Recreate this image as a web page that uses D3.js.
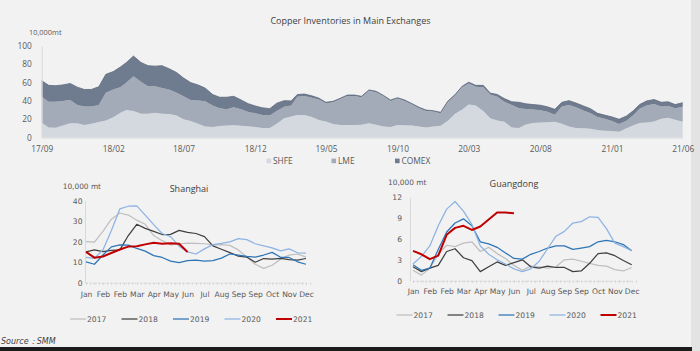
<!DOCTYPE html>
<html>
<head>
<meta charset="utf-8">
<script src="https://cdn.jsdelivr.net/npm/d3@7"></script>
<style>
  body { margin: 0; background: #f2f2f2; }
  svg { display: block; }
</style>
</head>
<body>
<svg id="chart" width="700" height="351"></svg>
<script>
// ---- top chart: stocks read every half month from 17/09 to 21/06 (10,000 mt)
const exchanges = ["SHFE", "LME", "COMEX"];
const shfe = [16.2, 11, 10.7, 13, 15.5, 15.5, 13.7, 15, 17, 18.5,
  22, 27, 30, 29, 26, 26, 27, 26, 25.7, 24,
  20, 18, 15, 12, 11.5, 12.5, 13, 13.5, 12.8, 12.4,
  11.5, 10.5, 10.5, 15, 21, 23, 24.6, 24.6, 22.5, 19,
  17.5, 14.8, 13.7, 13.7, 13.7, 14, 15.5, 14, 12, 11.5,
  13.7, 13.5, 13, 12, 11, 12, 12.8, 18, 26, 30.5,
  36, 35, 29, 21, 18.5, 17.3, 11, 10.5, 14.2, 15.8,
  16.3, 16.8, 17.2, 15, 12, 10.5, 10, 9.5, 8.3, 7.5,
  7, 6.4, 10, 13.5, 15.8, 16.5, 17.5, 20.5, 21.5, 19.5,
  17.3];
const lme = [28.4, 28, 28.3, 27, 25.5, 20, 20.3, 19, 18.5, 30.5,
  30.5, 28, 30, 38, 35, 30, 29, 28, 26.6, 25,
  25, 23, 25.5, 27.5, 23.5, 19.5, 18, 19.5, 18, 15.6,
  14.9, 14, 13.5, 14, 12.7, 12, 20, 20.8, 21, 22.5,
  20, 23.7, 28.3, 31.7, 31.7, 30, 35.5, 35.5, 33, 28.5,
  28.8, 26.5, 23, 20, 18, 16.3, 13.7, 20.5, 20, 24.5,
  23, 20.5, 26, 26, 26, 21.7, 24.5, 21.5, 17, 14.7,
  13.5, 11.4, 7.8, 19, 23.5, 22.5, 19.5, 17, 14.2, 13,
  11, 8.3, 8.4, 11, 15.7, 18.5, 19, 13.3, 12.9, 12.5,
  16.4];
const comex = [17.4, 18, 17.6, 17.5, 18, 19.5, 18.5, 18.5, 20, 20,
  19.5, 22, 22, 22, 21, 22.5, 22, 24.5, 22.7, 22,
  20, 19, 16.9, 14.5, 12, 12, 13, 12, 10.2, 9,
  8.1, 8, 7.5, 8.5, 6.6, 5, 2.4, 2.1, 2, 1.5,
  1, 1, 1, 1, 1, 1, 1, 1, 1, 1,
  1, 1, 1, 1, 1, 1, 1, 1, 1, 1,
  1.5, 1.5, 2, 1.5, 2.5, 3.5, 3.5, 6.5, 5.6, 5.5,
  5.5, 5.3, 5.8, 4.5, 4.8, 4.7, 5, 5, 4, 4,
  4.5, 5.2, 5.1, 5, 4.5, 5, 5, 4.7, 4.6, 4,
  4.3];
const topTicks = ["17/09", "18/02", "18/07", "18/12", "19/05", "19/10", "20/03", "20/08", "21/01", "21/06"];
const topColors = ["#d4d8df", "#a3abb8", "#6f7b8e"];

// ---- bottom charts: weekly stocks, one reading every two weeks (10,000 mt)
const weekLabels = ["Jan", "Feb", "Feb", "Mar", "Apr", "May", "Jun", "Jul", "Aug", "Sep", "Sep", "Oct", "Nov", "Dec"];
const years = ["2017", "2018", "2019", "2020", "2021"];
const yearColors = ["#bfbfbf", "#404040", "#2e75b6", "#8db3e2", "#c00000"];

const sh2017 = [20, 19.8, 25, 31, 34, 33, 30.5, 28.5, 23, 20.5, 18.5, 19, 19.3, 19.2, 19, 18.5, 18.6, 18.2, 16, 12.5, 9, 7, 8.5, 11.5, 13.5, 14, 12.5];
const sh2018 = [15, 16, 15.2, 15.8, 16, 23, 28.5, 26.5, 25, 23.5, 23.6, 25.5, 24.5, 24, 22.5, 18, 16.3, 14.7, 13, 12.5, 10, 11.8, 11.5, 11.9, 11.2, 11, 11.8];
const sh2019 = [10.2, 9, 13.5, 17.5, 18.4, 18.3, 16.7, 15.4, 13.2, 12.3, 10.5, 9.8, 10.8, 11, 10.5, 10.8, 12, 14, 13.5, 12.8, 12.5, 13.5, 14.8, 12.4, 12.3, 10.2, 9];
const sh2020 = [12.4, 11.9, 16, 25.5, 36, 37.3, 37.5, 33, 28.3, 24, 22.5, 17.8, 15, 14, 16.5, 18.6, 19.2, 19.9, 21.5, 21, 19, 18, 17, 15.5, 16.5, 14.6, 14.4];
const sh2021 = [15, 12.2, 12.8, 14.5, 16.2, 17.6, 17.8, 18.7, 19.5, 19, 19.3, 19, 15];

const gd2017 = [1.5, 0.8, 1.8, 3.8, 5.1, 4.9, 5.4, 5.6, 4.2, 4.8, 3.9, 3.2, 2.2, 1.5, 2.1, 2, 1.8, 2, 3, 3.1, 2.8, 2.5, 2.2, 2.1, 1.6, 1.4, 1.9];
const gd2018 = [2, 1.3, 1.8, 2.2, 4.2, 4.6, 3.3, 2.9, 1.3, 2, 2.7, 2.2, 2.6, 3, 2, 1.8, 2.1, 1.9, 1.9, 1.3, 1.4, 2.5, 3.9, 4, 3.6, 2.9, 2.3];
const gd2019 = [2.3, 1.5, 1.8, 4.5, 7, 8.3, 8.9, 7.9, 5.6, 5.3, 4.8, 4, 3.2, 3.1, 3.8, 4.2, 4.7, 5, 5, 4.5, 4.7, 4.9, 5.6, 5.8, 5.6, 5.2, 4.3];
const gd2020 = [2.4, 3.5, 5, 7.9, 10.3, 11.4, 10, 8.1, 5, 3.8, 3, 2.4, 1.7, 1.3, 1.7, 2.8, 4.6, 6.4, 7.1, 8.3, 8.5, 9.2, 9.1, 7.5, 5.4, 4.9, 4.3];
const gd2021 = [4.3, 3.8, 3.1, 3.6, 6.6, 7.6, 7.9, 7.3, 7.8, 8.8, 9.8, 9.8, 9.7];

const svg = d3.select("#chart");

// page frame: grey strip at right, dark rule at bottom
svg.append("rect").attr("x", 691).attr("y", 0).attr("width", 9).attr("height", 351).attr("fill", "#e3e3e3");
svg.append("rect").attr("x", 0).attr("y", 347).attr("width", 692).attr("height", 4).attr("fill", "#1c1c1c");

/* ---------- top stacked area chart ---------- */
const start = new Date(2017, 8, 1);
const halfMonth = (i) => d3.timeDay.offset(d3.timeMonth.offset(start, Math.floor(i / 2)), i % 2 ? 15 : 0);
const rows = shfe.map((v, i) => ({ date: halfMonth(i), SHFE: v, LME: lme[i], COMEX: comex[i] }));

const xTop = d3.scaleTime().domain([start, new Date(2021, 5, 1)]).range([41.7, 682.7]);
const yTop = d3.scaleLinear().domain([0, 100]).range([137.5, 46]);

const topG = svg.append("g").style("font-family", "'Open Sans', sans-serif");

topG.append("text")
  .attr("x", 350.5).attr("y", 20.5).attr("dy", "0.35em")
  .attr("text-anchor", "middle")
  .style("font-size", "9px").style("fill", "#404040")
  .text("Copper Inventories in Main Exchanges");

topG.append("text")
  .attr("x", 29).attr("y", 32).attr("dy", "0.35em")
  .style("font-size", "7.4px").style("fill", "#595959")
  .text("10,000mt");

const stacked = d3.stack().keys(exchanges)(rows);
const area = d3.area()
  .x((d) => xTop(d.data.date))
  .y0((d) => yTop(d[0]))
  .y1((d) => yTop(d[1]));

topG.append("g")
  .selectAll("path")
  .data(stacked)
  .join("path")
  .attr("d", area)
  .attr("fill", (d, i) => topColors[i]);

// slightly darker edge on the top of the pile
topG.append("path")
  .datum(stacked[2])
  .attr("d", d3.line().x((d) => xTop(d.data.date)).y((d) => yTop(d[1])))
  .attr("fill", "none")
  .attr("stroke", "#5f6b7e")
  .attr("stroke-width", 0.8);

const yAxisTop = topG.append("g")
  .attr("transform", "translate(41.7,0)")
  .call(d3.axisLeft(yTop).tickValues([0, 20, 40, 60, 80, 100]).tickSize(0).tickPadding(10));
yAxisTop.select(".domain").attr("stroke", "#d9d9d9");

const tickDates = topTicks.map((t) => d3.timeParse("%y/%m")(t));
const xAxisTop = topG.append("g")
  .attr("transform", "translate(0,137.5)")
  .call(d3.axisBottom(xTop).tickValues(tickDates).tickFormat(d3.timeFormat("%y/%m")).tickSize(0));
xAxisTop.select(".domain").attr("stroke", "#d9d9d9");
xAxisTop.selectAll("text").attr("y", 11.5).attr("dy", "0.35em");

topG.selectAll(".tick text")
  .style("font-family", "'Open Sans', sans-serif")
  .style("font-size", "8.3px")
  .style("fill", "#595959");

const legendX = [266.5, 331.5, 395];
const lg = topG.append("g")
  .selectAll("g")
  .data(exchanges)
  .join("g")
  .attr("transform", (d, i) => `translate(${legendX[i]},161)`);
lg.append("rect").attr("x", 0).attr("y", -2.4).attr("width", 4.6).attr("height", 4.6)
  .attr("fill", (d, i) => topColors[i]);
lg.append("text").attr("x", 6.5).attr("dy", "0.35em")
  .style("font-size", "8.4px").style("fill", "#595959")
  .text((d) => d);

/* ---------- bottom line charts ---------- */
const weeks = d3.range(0, 53, 2);

function smallChart(cfg) {
  const g = svg.append("g").style("font-family", "'DejaVu Sans', sans-serif");
  const x = d3.scaleLinear().domain([0, 52]).range(cfg.xRange);
  const y = d3.scaleLinear().domain([0, cfg.yMax]).range(cfg.yRange);

  g.append("text")
    .attr("x", cfg.titleX).attr("y", cfg.titleY).attr("dy", "0.35em")
    .attr("text-anchor", "middle")
    .style("font-family", "'Open Sans', sans-serif")
    .style("font-size", "9px").style("fill", "#404040")
    .text(cfg.title);

  g.append("text")
    .attr("x", cfg.unitX).attr("y", cfg.unitY).attr("dy", "0.35em")
    .style("font-size", "7.4px").style("fill", "#595959")
    .text("10,000 mt");

  const ya = g.append("g")
    .attr("transform", `translate(${cfg.axisX},0)`)
    .call(d3.axisLeft(y).tickValues(cfg.yTicks).tickSize(0).tickPadding(cfg.yPad));
  ya.select(".domain").attr("stroke", "#d9d9d9");

  // week ticks along the bottom give the dotted base line
  const xa = g.append("g")
    .attr("transform", `translate(0,${cfg.yRange[0]})`)
    .call(d3.axisBottom(x).tickValues(d3.range(0, 54)).tickFormat("").tickSize(2).tickSizeOuter(0));
  xa.select(".domain").attr("stroke", "#d0d0d0").attr("stroke-dasharray", "1.5,1.5");
  xa.selectAll(".tick line").attr("stroke", "#d0d0d0");

  const xl = g.append("g")
    .attr("transform", `translate(0,${cfg.yRange[0]})`)
    .call(d3.axisBottom(x).tickValues(d3.range(0, 53, 4)).tickFormat((d, i) => weekLabels[i]).tickSize(0));
  xl.select(".domain").remove();
  xl.selectAll("text").attr("y", cfg.labelDy).attr("dy", "0.35em");

  g.selectAll(".tick text").style("font-family", "'DejaVu Sans', sans-serif")
    .style("font-size", "7.6px").style("fill", "#595959");

  const line = d3.line().x((d, i) => x(weeks[i])).y((d) => y(d));
  g.append("g")
    .selectAll("path")
    .data(cfg.series)
    .join("path")
    .attr("d", (d) => line(d))
    .attr("fill", "none")
    .attr("stroke", (d, i) => yearColors[i])
    .attr("stroke-width", (d, i) => (i === 4 ? 2 : 1.25))
    .attr("stroke-linejoin", "round");

  const leg = g.append("g")
    .selectAll("g")
    .data(years)
    .join("g")
    .attr("transform", (d, i) => `translate(${cfg.legendX + i * cfg.legendStep},${cfg.legendY})`);
  leg.append("line").attr("x1", 0).attr("x2", 16)
    .attr("stroke", (d, i) => yearColors[i])
    .attr("stroke-width", (d, i) => (i === 4 ? 2 : 1.25));
  leg.append("text").attr("x", 17).attr("dy", "0.35em")
    .style("font-size", "7.6px").style("fill", "#595959")
    .text((d) => d);
}

smallChart({
  title: "Shanghai", titleX: 189, titleY: 189,
  unitX: 62.7, unitY: 186,
  xRange: [86, 306], yRange: [282.7, 200.7], yMax: 40,
  yTicks: [0, 10, 20, 30, 40], axisX: 85, yPad: 2.5, labelDy: 11.5,
  series: [sh2017, sh2018, sh2019, sh2020, sh2021],
  legendX: 70, legendStep: 51.5, legendY: 319
});

smallChart({
  title: "Guangdong", titleX: 514, titleY: 184,
  unitX: 388, unitY: 182,
  xRange: [413, 631.7], yRange: [280.7, 197.3], yMax: 12,
  yTicks: [0, 3, 6, 9, 12], axisX: 410, yPad: 8, labelDy: 11,
  series: [gd2017, gd2018, gd2019, gd2020, gd2021],
  legendX: 396.5, legendStep: 51, legendY: 315
});

svg.append("text")
  .attr("x", 1).attr("y", 341).attr("dy", "0.35em")
  .style("font-family", "'DejaVu Sans', sans-serif")
  .style("font-style", "italic")
  .style("font-size", "8px").style("fill", "#404040")
  .text("Source：SMM");
</script>
</body>
</html>
